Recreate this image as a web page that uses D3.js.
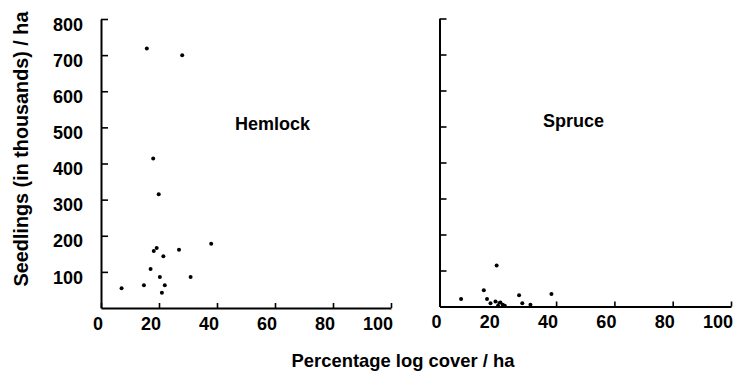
<!DOCTYPE html>
<html>
<head>
<meta charset="utf-8">
<script src="https://cdn.jsdelivr.net/npm/d3@7"></script>
<style>
  body { margin: 0; background: #fff; }
  svg { display: block; font-family: "Liberation Sans", Arial, sans-serif; }
</style>
</head>
<body>
<svg id="chart"></svg>
<script>
const width = 737;
const height = 371;

// Hemlock: percentage log cover vs seedlings (thousands / ha)
const hemlockCover     = [15.8, 28.0, 18.0, 19.9, 38.0, 19.2, 18.2, 26.9, 21.5, 17.1, 20.3, 30.9, 7.1, 14.8, 22.0, 21.0];
const hemlockSeedlings = [718, 700, 414, 315, 178, 166, 158, 161, 143, 108, 86, 86, 55, 63, 63, 42];

// Spruce
const spruceCover     = [7.4, 15.2, 19.6, 16.3, 27.3, 38.4, 28.4, 31.2, 17.5, 19.2, 20.1, 20.9, 21.7, 22.4];
const spruceSeedlings = [21, 45, 114, 21, 31, 35, 9, 5, 9, 14, 2, 11, 5, 2];

const xTicks = [0, 20, 40, 60, 80, 100];
const yTicks = [100, 200, 300, 400, 500, 600, 700, 800];

const svg = d3.select("#chart")
    .attr("width", width)
    .attr("height", height);

function drawPanel(opts) {
    const xScale = d3.scaleLinear().domain([0, 100]).range([opts.x0, opts.x1]);
    const yScale = d3.scaleLinear().domain([0, 800]).range([opts.y0, opts.y1]);

    const g = svg.append("g");

    // y axis, ticks pointing inward
    const yAxis = g.append("g")
        .attr("transform", `translate(${opts.x0},0)`)
        .call(d3.axisLeft(yScale)
            .tickValues(yTicks)
            .tickSize(-7)
            .tickSizeOuter(0)
            .tickFormat(opts.yLabels ? d3.format("d") : () => ""));

    yAxis.select(".domain").attr("stroke-width", 2);
    yAxis.selectAll(".tick line").attr("stroke-width", 1.6);
    yAxis.selectAll("text")
        .attr("x", -18)
        .attr("font-size", "18px")
        .attr("font-weight", "bold")
        .attr("fill", "#000")
        .attr("dy", "0.62em");

    // x axis, ticks pointing up
    const xAxis = g.append("g")
        .attr("transform", `translate(0,${opts.y0})`)
        .call(d3.axisBottom(xScale)
            .tickValues(xTicks)
            .tickSize(-5)
            .tickSizeOuter(0));

    xAxis.select(".domain").attr("stroke-width", 2);
    xAxis.selectAll(".tick line").attr("stroke-width", 1.6);
    xAxis.selectAll("text")
        .attr("y", 9)
        .attr("font-size", "18px")
        .attr("font-weight", "bold")
        .attr("fill", "#000")
        .style("text-anchor", "end")
        .attr("dx", "1.5");

    // points
    g.selectAll("circle")
        .data(opts.cover.map((c, i) => ({ c: c, s: opts.seedlings[i] })))
        .enter()
        .append("circle")
        .attr("cx", d => xScale(d.c))
        .attr("cy", d => yScale(d.s))
        .attr("r", 2)
        .attr("fill", "#000");

    // panel title
    g.append("text")
        .attr("x", opts.titleX)
        .attr("y", opts.titleY)
        .attr("font-size", "18px")
        .attr("font-weight", "bold")
        .text(opts.title);
}

drawPanel({
    x0: 101, x1: 391, y0: 308, y1: 19,
    cover: hemlockCover, seedlings: hemlockSeedlings,
    yLabels: true, title: "Hemlock", titleX: 235, titleY: 130
});

drawPanel({
    x0: 439.5, x1: 731, y0: 306.5, y1: 18.5,
    cover: spruceCover, seedlings: spruceSeedlings,
    yLabels: false, title: "Spruce", titleX: 543, titleY: 127
});

// axis titles
svg.append("text")
    .attr("x", 403)
    .attr("y", 366.5)
    .attr("text-anchor", "middle")
    .attr("font-size", "18.4px")
    .attr("font-weight", "bold")
    .text("Percentage log cover / ha");

svg.append("text")
    .attr("transform", "translate(28,149) rotate(-90)")
    .attr("text-anchor", "middle")
    .attr("font-size", "19.8px")
    .attr("font-weight", "bold")
    .text("Seedlings (in thousands) / ha");
</script>
</body>
</html>
